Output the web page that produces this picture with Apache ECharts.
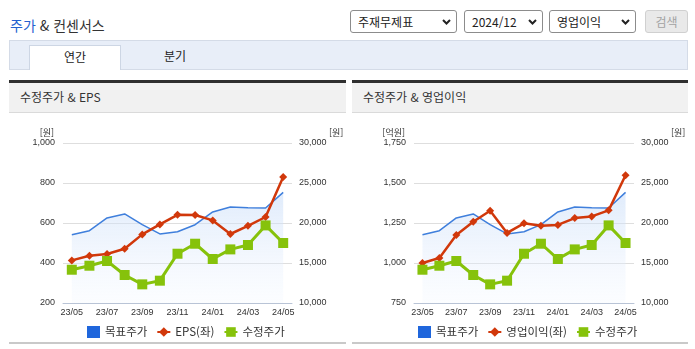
<!DOCTYPE html>
<html lang="ko">
<head>
<meta charset="utf-8">
<script src="https://cdn.jsdelivr.net/npm/echarts@6/dist/echarts.min.js"></script>
<style>
  html, body { margin: 0; padding: 0; background: #fff; }
  body { width: 695px; height: 349px; position: relative; overflow: hidden;
         font-family: "Noto Sans CJK KR", "Noto Sans", sans-serif; color: #333; }
  #title { position: absolute; left: 10px; top: 14px; font-size: 14px; line-height: 22px; color: #333; }
  #title span { color: #2461cf; }
  .sel { position: absolute; top: 10px; height: 23px; box-sizing: border-box; border: 1px solid #8c8c8c;
         border-radius: 3px; background: #fff; font-size: 12px; line-height: 21px; padding-left: 7px; color: #222; }
  .sel svg { position: absolute; right: 5px; top: 8px; }
  #btn { position: absolute; left: 645px; top: 10px; width: 43px; height: 23px; box-sizing: border-box;
         border: 1px solid #d0d0d0; border-radius: 3px; background: #e9e9e9; color: #a3a3a3;
         font-size: 12px; line-height: 21px; text-align: center; }
  #tabbar { position: absolute; left: 9px; top: 40px; width: 679px; height: 30px; box-sizing: border-box;
            background: #e8eef8; border: 1px solid #d4dbe7; }
  #tabOn { position: absolute; left: 29px; top: 45px; width: 92px; height: 25px; box-sizing: border-box;
           background: #fff; border: 1px solid #cdd6e4; border-bottom: none; font-size: 12px;
           line-height: 22px; text-align: center; color: #222; }
  #tabOff { position: absolute; left: 150px; top: 45px; width: 50px; height: 24px; font-size: 12px;
            line-height: 22px; text-align: center; color: #222; }
  .ph { position: absolute; top: 80px; height: 33px; box-sizing: border-box; border-top: 3px solid #2f2f2f;
        background: #f1f1f1; border-bottom: 1px solid #dadada; font-size: 12px; line-height: 28px;
        padding-left: 11px; color: #333; }
  .pb { position: absolute; top: 342px; height: 2px; background: #c9c9c9; }
  #chart { position: absolute; left: 0; top: 0; width: 695px; height: 349px; }
</style>
</head>
<body>
<div id="title"><span>주가</span> &amp; 컨센서스</div>

<div class="sel" style="left:350px;width:107px;">주재무제표
  <svg width="9" height="6"><polyline points="1,1 4.5,4.5 8,1" fill="none" stroke="#222" stroke-width="2"/></svg></div>
<div class="sel" style="left:464px;width:79px;">2024/12
  <svg width="9" height="6"><polyline points="1,1 4.5,4.5 8,1" fill="none" stroke="#222" stroke-width="2"/></svg></div>
<div class="sel" style="left:549px;width:87px;">영업이익
  <svg width="9" height="6"><polyline points="1,1 4.5,4.5 8,1" fill="none" stroke="#222" stroke-width="2"/></svg></div>
<div id="btn">검색</div>

<div id="tabbar"></div>
<div id="tabOn">연간</div>
<div id="tabOff">분기</div>

<div class="ph" style="left:9px;width:337px;">수정주가 &amp; EPS</div>
<div class="ph" style="left:352px;width:336px;">수정주가 &amp; 영업이익</div>
<div class="pb" style="left:9px;width:337px;"></div>
<div class="pb" style="left:352px;width:336px;"></div>

<div id="chart"></div>

<script>
// Monthly categories
const months = ['23/05', '23/06', '23/07', '23/08', '23/09', '23/10', '23/11',
                '23/12', '24/01', '24/02', '24/03', '24/04', '24/05'];

// 목표주가 (원)
const targetPrice = [18540, 19040, 20630, 21130, 19790, 18630, 18910,
                     19790, 21380, 22000, 21910, 21880, 23830];

// 수정주가 (원)
const adjustedPrice = [14160, 14660, 15250, 13500, 12330, 12790, 16160,
                       17410, 15500, 16700, 17250, 19700, 17500];

// EPS (원)
const epsValues = [413, 436, 445, 471, 543, 593, 641, 640, 613, 545, 586, 630, 830];

// 영업이익 (억원)
const operatingIncome = [1000, 1031, 1175, 1258, 1327, 1188, 1248,
                         1233, 1238, 1281, 1291, 1329, 1548];

const FONT = '"Liberation Sans", "Noto Sans CJK KR", sans-serif';
const KFONT = '"Noto Sans CJK KR", sans-serif';
const comma = v => v.toLocaleString('en-US');

const BLUE = '#3f7fdc';
const RED = '#d1380b';
const GREEN = '#86c20b';

function xAxisFor(gridIndex) {
  return {
    type: 'category', gridIndex, data: months, boundaryGap: true,
    axisLine: { lineStyle: { color: '#b9c4d6', width: 1 } },
    axisTick: { length: 4, lineStyle: { color: '#b9c4d6' },
                interval: i => i === 0 || i % 2 === 1 },
    axisLabel: { interval: 1, fontSize: 9, color: '#333', margin: 5, fontFamily: FONT },
    splitLine: { show: false }
  };
}

function leftAxis(gridIndex, name, min, max, interval) {
  return {
    type: 'value', gridIndex, position: 'left', min, max, interval,
    name, nameLocation: 'end', nameGap: 6,
    nameTextStyle: { fontSize: 9, color: '#333', align: 'right', padding: [0, 9, 0, 0], fontFamily: KFONT },
    axisLine: { show: false }, axisTick: { show: false },
    axisLabel: { fontSize: 9, color: '#333', margin: 8, formatter: comma, fontFamily: FONT },
    splitLine: { lineStyle: { color: '#dedede', width: 1 } }
  };
}

function rightAxis(gridIndex) {
  return {
    type: 'value', gridIndex, position: 'right', min: 10000, max: 30000, interval: 5000,
    name: '[원]', nameLocation: 'end', nameGap: 6,
    nameTextStyle: { fontSize: 9, color: '#333', align: 'left', padding: [0, 0, 0, 37], fontFamily: KFONT },
    axisLine: { show: false }, axisTick: { show: false },
    axisLabel: { fontSize: 9, color: '#333', margin: 7, formatter: comma, fontFamily: FONT },
    splitLine: { show: false }
  };
}

function targetSeries(xi, yi) {
  return {
    name: '목표주가', type: 'line', xAxisIndex: xi, yAxisIndex: yi, data: targetPrice,
    symbol: 'none', z: 1, color: BLUE,
    lineStyle: { color: BLUE, width: 1.5 },
    areaStyle: {
      color: new echarts.graphic.LinearGradient(0, 0, 0, 1, [
        { offset: 0, color: 'rgba(196,218,248,0.75)' },
        { offset: 1, color: 'rgba(240,246,255,0.35)' }
      ])
    }
  };
}

function redSeries(name, data, xi, yi) {
  return {
    name, type: 'line', xAxisIndex: xi, yAxisIndex: yi, data,
    symbol: 'diamond', symbolSize: 8, z: 3, color: RED,
    lineStyle: { color: RED, width: 2.5 }, itemStyle: { color: RED }
  };
}

function priceSeries(xi, yi) {
  return {
    name: '수정주가', type: 'line', xAxisIndex: xi, yAxisIndex: yi, data: adjustedPrice,
    symbol: 'rect', symbolSize: 10, z: 4, color: GREEN,
    lineStyle: { color: GREEN, width: 3 }, itemStyle: { color: GREEN }
  };
}

function legendFor(left, redName) {
  return {
    left, top: 321, orient: 'horizontal', itemWidth: 13, itemHeight: 12, itemGap: 9,
    textStyle: { fontSize: 11.5, color: '#333', fontFamily: KFONT },
    selectedMode: false,
    data: [
      { name: '목표주가', icon: 'rect', itemStyle: { color: '#1f66dc' } },
      { name: redName },
      { name: '수정주가' }
    ]
  };
}

const chart = echarts.init(document.getElementById('chart'), null, { renderer: 'canvas' });
chart.setOption({
  animation: false,
  backgroundColor: 'transparent',
  grid: [
    { left: 63, top: 143, width: 229, height: 160 },
    { left: 414, top: 143, width: 220, height: 160 }
  ],
  xAxis: [xAxisFor(0), xAxisFor(1)],
  yAxis: [
    leftAxis(0, '[원]', 200, 1000, 200),
    rightAxis(0),
    leftAxis(1, '[억원]', 750, 1750, 250),
    rightAxis(1)
  ],
  legend: [legendFor(82, 'EPS(좌)'), legendFor(413, '영업이익(좌)')],
  series: [
    targetSeries(0, 1),
    redSeries('EPS(좌)', epsValues, 0, 0),
    priceSeries(0, 1),
    targetSeries(1, 3),
    redSeries('영업이익(좌)', operatingIncome, 1, 2),
    priceSeries(1, 3)
  ]
});
</script>
</body>
</html>
